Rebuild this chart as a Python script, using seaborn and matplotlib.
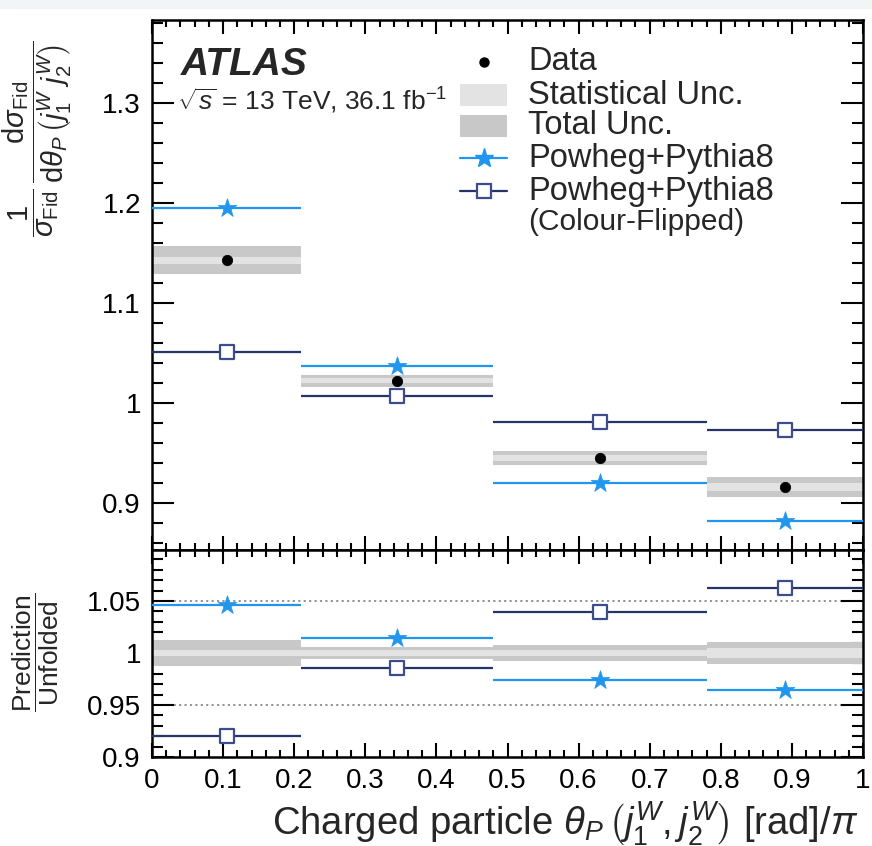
import matplotlib
matplotlib.use("Agg")
import numpy as np
import pandas as pd
import matplotlib.pyplot as plt
import seaborn as sns
from matplotlib.patches import Rectangle
from matplotlib.ticker import MultipleLocator, FixedLocator

# ---------------- data ----------------
bin_edges = [0.0, 0.21, 0.48, 0.78, 1.0]
data_vals = [1.143, 1.022, 0.945, 0.916]
stat_unc = [0.0035, 0.0025, 0.0030, 0.0040]
total_unc = [0.0143, 0.0060, 0.0075, 0.0100]
powheg_vals = [1.195, 1.037, 0.920, 0.882]
cflip_vals = [1.051, 1.007, 0.981, 0.973]
powheg_ratio = [1.0457, 1.0145, 0.974, 0.964]
cflip_ratio = [0.920, 0.9855, 1.039, 1.062]

xtick_vals = [0, 0.1, 0.2, 0.3, 0.4, 0.5, 0.6, 0.7, 0.8, 0.9, 1.0]
xtick_labels = ["0", "0.1", "0.2", "0.3", "0.4", "0.5", "0.6", "0.7", "0.8", "0.9", "1"]
main_ytick_vals = [0.9, 1.0, 1.1, 1.2, 1.3]
main_ytick_labels = ["0.9", "1", "1.1", "1.2", "1.3"]
ratio_ytick_vals = [0.9, 0.95, 1.0, 1.05]
ratio_ytick_labels = ["0.9", "0.95", "1", "1.05"]

legend_labels = ["Data", "Statistical Unc.", "Total Unc.", "Powheg+Pythia8",
                 "Powheg+Pythia8", "(Colour-Flipped)"]

# ---------------- style ----------------
sns.set_theme(style="ticks")
plt.rcParams["font.family"] = ["Liberation Sans", "DejaVu Sans"]
plt.rcParams["mathtext.fontset"] = "custom"
plt.rcParams["mathtext.rm"] = "Liberation Sans"
plt.rcParams["mathtext.it"] = "Liberation Sans:italic"
plt.rcParams["mathtext.bf"] = "Liberation Sans:bold"

C_BLUE = "#2196ee"
C_NAVY = "#26346a"
C_SQ = "#3d4d8c"
C_TOT = "#c8c8c8"
C_STAT = "#e3e3e3"

edges = np.array(bin_edges)
centers = 0.5 * (edges[:-1] + edges[1:])
widths = np.diff(edges)
dv = np.array(data_vals)
st = np.array(stat_unc)
tot = np.array(total_unc)

df = pd.DataFrame({
    "x": centers, "data": dv, "powheg": powheg_vals, "cflip": cflip_vals,
    "r_powheg": powheg_ratio, "r_cflip": cflip_ratio,
})

W, H = 872, 846
fig = plt.figure(figsize=(W / 100, H / 100), dpi=100)
fig.patch.set_facecolor("white")
fig.patches.append(Rectangle((0, 1 - 8 / H), 1, 8 / H, transform=fig.transFigure,
                             color="#f2f5f5", zorder=0))

L, R = 152 / W, 863 / W
y_top, y_mid, y_bot = 1 - 20 / H, 1 - 550 / H, 1 - 757 / H
ax = fig.add_axes([L, y_mid, R - L, y_top - y_mid])
axr = fig.add_axes([L, y_bot, R - L, y_mid - y_bot])

STAR_S = 200
SQ_S = 110

# ---------------- main panel ----------------
ax.bar(centers, 2 * tot, bottom=dv - tot, width=widths, color=C_TOT, linewidth=0, zorder=1)
ax.bar(centers, 2 * st, bottom=dv - st, width=widths, color=C_STAT, linewidth=0, zorder=2)
ax.hlines(powheg_vals, edges[:-1], edges[1:], color=C_BLUE, lw=1.6, zorder=3)
ax.hlines(cflip_vals, edges[:-1], edges[1:], color=C_NAVY, lw=1.6, zorder=3)
sns.scatterplot(data=df, x="x", y="powheg", marker="*", s=STAR_S, color=C_BLUE,
                edgecolor=C_BLUE, linewidth=0.5, ax=ax, zorder=4, legend=False)
sns.scatterplot(data=df, x="x", y="cflip", marker="s", s=SQ_S, facecolor="white",
                edgecolor=C_SQ, linewidth=1.6, ax=ax, zorder=4, legend=False)
sns.scatterplot(data=df, x="x", y="data", marker="o", s=55, color="black",
                edgecolor="black", ax=ax, zorder=5, legend=False)

ax.set_xlim(0, 1)
ax.set_ylim(0.853, 1.383)
ax.set_xlabel("")
ax.set_ylabel("")
ax.xaxis.set_major_locator(FixedLocator(xtick_vals))
ax.xaxis.set_minor_locator(MultipleLocator(0.02))
ax.set_xticklabels([])
ax.yaxis.set_major_locator(FixedLocator(main_ytick_vals))
ax.set_yticklabels(main_ytick_labels)
ax.yaxis.set_minor_locator(MultipleLocator(0.02))

# ---------------- ratio panel ----------------
rel_tot = tot / dv
rel_st = st / dv
axr.axhline(1.05, color="#8a8a8a", lw=1.3, ls=(0, (1.2, 1.8)), zorder=0.5)
axr.axhline(0.95, color="#8a8a8a", lw=1.3, ls=(0, (1.2, 1.8)), zorder=0.5)
axr.bar(centers, 2 * rel_tot, bottom=1 - rel_tot, width=widths, color=C_TOT, linewidth=0, zorder=1)
axr.bar(centers, 2 * rel_st, bottom=1 - rel_st, width=widths, color=C_STAT, linewidth=0, zorder=2)
axr.hlines(powheg_ratio, edges[:-1], edges[1:], color=C_BLUE, lw=1.6, zorder=3)
axr.hlines(cflip_ratio, edges[:-1], edges[1:], color=C_NAVY, lw=1.6, zorder=3)
sns.scatterplot(data=df, x="x", y="r_powheg", marker="*", s=STAR_S, color=C_BLUE,
                edgecolor=C_BLUE, linewidth=0.5, ax=axr, zorder=4, legend=False)
sns.scatterplot(data=df, x="x", y="r_cflip", marker="s", s=SQ_S, facecolor="white",
                edgecolor=C_SQ, linewidth=1.6, ax=axr, zorder=4, legend=False)

axr.set_xlim(0, 1)
axr.set_ylim(0.9, 1.099)
axr.set_ylabel("")
axr.xaxis.set_major_locator(FixedLocator(xtick_vals))
axr.set_xticklabels(xtick_labels)
axr.xaxis.set_minor_locator(MultipleLocator(0.02))
axr.yaxis.set_major_locator(FixedLocator(ratio_ytick_vals))
axr.set_yticklabels(ratio_ytick_labels)
axr.yaxis.set_minor_locator(MultipleLocator(0.01))

for a in (ax, axr):
    for s in a.spines.values():
        s.set_linewidth(1.8)
        s.set_color("black")
    a.tick_params(which="both", direction="in", top=True, right=True,
                  labelsize=20, width=1.5, colors="black")
    a.tick_params(axis="y", which="major", length=16, pad=8)
    a.tick_params(axis="y", which="minor", length=8)
    a.tick_params(axis="x", which="major", length=10, pad=8)
    a.tick_params(axis="x", which="minor", length=5)
    a.set_facecolor("white")

axr.set_xlabel(r"Charged particle $\theta_P\,\left(j_1^W, j_2^W\right)$ [rad]$/\pi$",
               fontsize=27.5, loc="right")
axr.xaxis.set_label_coords(0.993, -0.205)

# y labels
fig.text(37 / W, 1 - 40 / H,
         r"$\dfrac{1}{\sigma_{\mathrm{Fid}}}\,\dfrac{\mathrm{d}\sigma_{\mathrm{Fid}}}"
         r"{\mathrm{d}\theta_{P}\,\left(j_1^{W}\ j_2^{W}\right)}$",
         rotation=90, ha="center", va="top", fontsize=21)
fig.text(36 / W, 1 - 652 / H,
         r"$\dfrac{\mathrm{Prediction}}{\mathrm{Unfolded}}$",
         rotation=90, ha="center", va="center", fontsize=19)

# ATLAS labels
def axpos(px, py):
    return ((px - 152) / 711, 1 - (py - 20) / 530)

ax.text(*axpos(181, 65), "ATLAS", transform=ax.transAxes, fontsize=28,
        fontweight="bold", fontstyle="italic", ha="left", va="center")
ax.text(*axpos(177, 101), r"$\sqrt{s}$ = 13 TeV, 36.1 fb$^{-1}$", transform=ax.transAxes,
        fontsize=19, ha="left", va="center")

# manual legend
rows = [62, 95, 126, 158, 191, 222]
sizes = [23.5, 23.5, 23.5, 23.5, 23.5, 21.5]
hx0, hx1, hxc, tx = 460, 507, 483.5, 528
for i, lab in enumerate(legend_labels):
    ax.text(*axpos(tx, rows[i]), lab, transform=ax.transAxes, fontsize=sizes[i],
            ha="left", va="center")
x0, _ = axpos(hx0, 0)
x1, _ = axpos(hx1, 0)
xc, _ = axpos(hxc, 0)
ax.plot([xc], [axpos(0, rows[0])[1]], "o", color="black", ms=6.5, transform=ax.transAxes,
        clip_on=False)
for k, col in ((1, C_STAT), (2, C_TOT)):
    yc = axpos(0, rows[k])[1]
    hh = 22 / 530
    ax.add_patch(Rectangle((x0, yc - hh / 2), x1 - x0, hh, transform=ax.transAxes,
                           color=col, lw=0, clip_on=False))
yc = axpos(0, rows[3])[1]
ax.plot([x0, x1], [yc, yc], color=C_BLUE, lw=1.6, transform=ax.transAxes)
ax.plot([xc], [yc], "*", color=C_BLUE, ms=14, transform=ax.transAxes)
yc = axpos(0, rows[4])[1]
ax.plot([x0, x1], [yc, yc], color=C_NAVY, lw=1.6, transform=ax.transAxes)
ax.plot([xc], [yc], "s", mfc="white", mec=C_SQ, mew=1.6, ms=10, transform=ax.transAxes)

fig.savefig("out.png", dpi=100)
